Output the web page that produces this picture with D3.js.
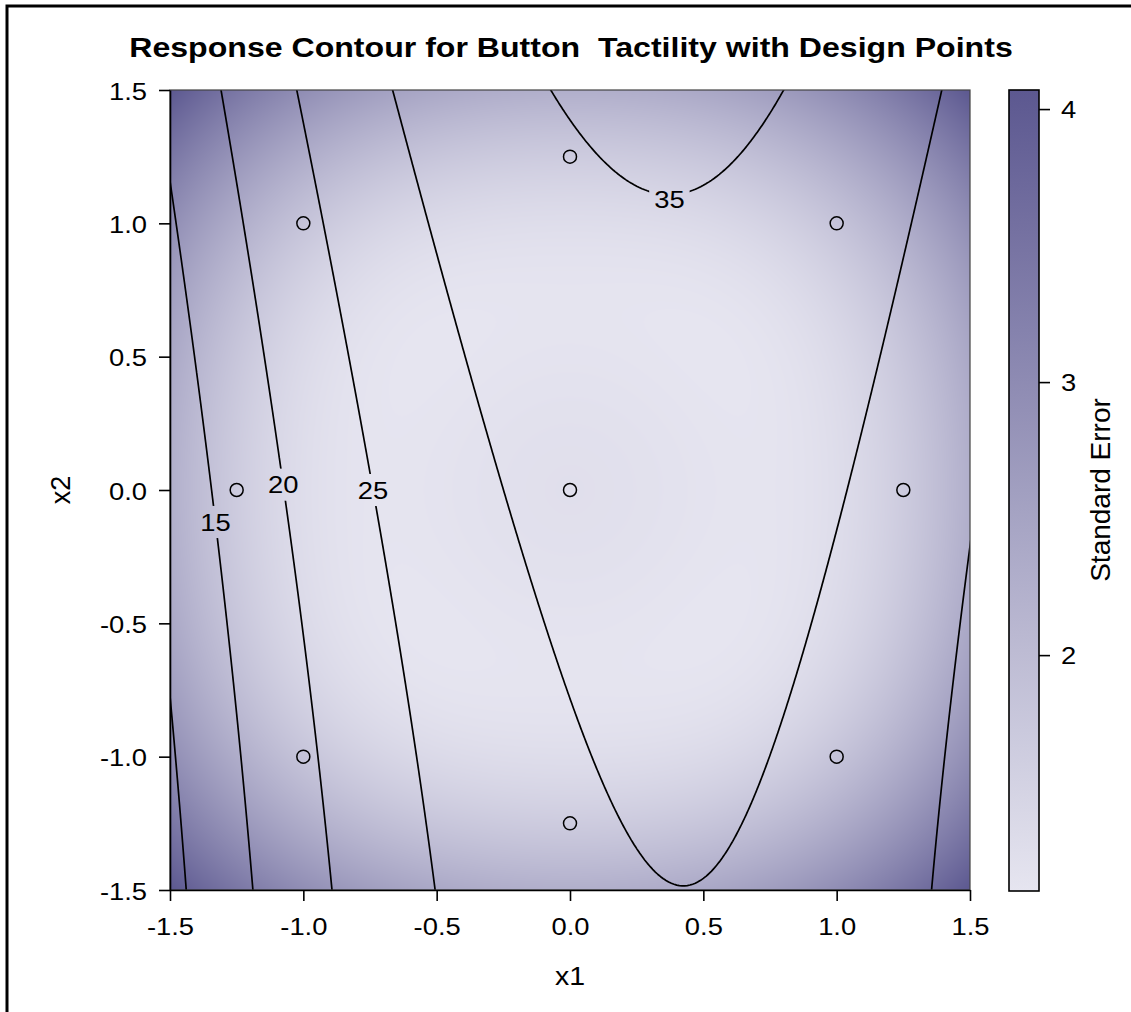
<!DOCTYPE html>
<html><head><meta charset="utf-8">
<script src="https://cdn.jsdelivr.net/npm/d3@7"></script>
<style>
html,body{margin:0;padding:0;background:#fff;}
svg text{font-family:"Liberation Sans",Arial,Helvetica,sans-serif;fill:#000;}
</style></head><body>
<svg id="chart" width="1131" height="1012"></svg>
<script>
// Second-order response model for tactility: intercept, x1, x2, x1^2, x2^2, x1*x2
const responseCoef = [31.49, 4.54, 2.13, -5.75, 0.288, -0.232];
// Central composite design runs: 4 factorial, 4 axial (±1.25), 3 centre replicates
const designX1 = [-1, 1, -1, 1, -1.25, 1.25, 0, 0, 0, 0, 0];
const designX2 = [-1, -1, 1, 1, 0, 0, -1.25, 1.25, 0, 0, 0];
const rootMSE = 2.215;
const contourLevels = [10, 15, 20, 25, 30, 35];
const labelValues = [15, 20, 25, 35];
const labelX2 = [-0.12, 0.02, 0.0, 1.09];
const axisTicks = [-1.5, -1.0, -0.5, 0.0, 0.5, 1.0, 1.5];
const seTicks = [2, 3, 4];

const W = 1131, H = 1012;
const plot = {left: 170, right: 970, top: 90, bottom: 890};
const cbar = {left: 1009, right: 1039, top: 90, bottom: 891};
const SX = 1.14;           // horizontal text stretch
const FONT = "'Liberation Sans', Arial, Helvetica, sans-serif";

const svg = d3.select("#chart");
const x = d3.scaleLinear().domain([-1.5, 1.5]).range([plot.left, plot.right]);
const y = d3.scaleLinear().domain([-1.5, 1.5]).range([plot.bottom, plot.top]);

const terms = (a, b) => [1, a, b, a * a, b * b, a * b];
const predict = (a, b) => d3.sum(terms(a, b), (t, i) => t * responseCoef[i]);

// (X'X)^-1 for the design
function invert(M) {
  const n = M.length, A = M.map((r, i) => r.concat(d3.range(n).map(j => (i === j ? 1 : 0))));
  for (let c = 0; c < n; c++) {
    let p = c;
    for (let r = c + 1; r < n; r++) if (Math.abs(A[r][c]) > Math.abs(A[p][c])) p = r;
    [A[c], A[p]] = [A[p], A[c]];
    const d = A[c][c];
    for (let k = 0; k < 2 * n; k++) A[c][k] /= d;
    for (let r = 0; r < n; r++) if (r !== c) {
      const f = A[r][c];
      for (let k = 0; k < 2 * n; k++) A[r][k] -= f * A[c][k];
    }
  }
  return A.map(r => r.slice(n));
}
const Xrows = designX1.map((a, i) => terms(a, designX2[i]));
const XtX = d3.range(6).map(i => d3.range(6).map(j => d3.sum(Xrows, r => r[i] * r[j])));
const XtXinv = invert(XtX);
function stdErr(a, b) {
  const f = terms(a, b);
  let v = 0;
  for (let i = 0; i < 6; i++) for (let j = 0; j < 6; j++) v += f[i] * XtXinv[i][j] * f[j];
  return rootMSE * Math.sqrt(v);
}

// standard error field on the pixel grid of the plot
const pw = plot.right - plot.left, ph = plot.bottom - plot.top;
const seField = new Float64Array(pw * ph);
for (let j = 0; j < ph; j++) for (let i = 0; i < pw; i++)
  seField[j * pw + i] = stdErr(x.invert(plot.left + i + 0.5), y.invert(plot.top + j + 0.5));
const seExtent = d3.extent(seField);
const color = d3.scaleLinear().domain(seExtent).range(["#e6e5f0", "#5c5890"]).interpolate(d3.interpolateRgb);

// outer frame
svg.append("rect").attr("x", 0).attr("y", 0).attr("width", W).attr("height", H).attr("fill", "#fff");
svg.append("path").attr("d", `M7,${H} V6 H${W}`).attr("fill", "none").attr("stroke", "#000").attr("stroke-width", 3);

// gradient raster
const cv = document.createElement("canvas");
cv.width = pw; cv.height = ph;
const ctx = cv.getContext("2d");
const img = ctx.createImageData(pw, ph);
for (let k = 0; k < pw * ph; k++) {
  const c = d3.rgb(color(seField[k]));
  img.data[4 * k] = c.r; img.data[4 * k + 1] = c.g; img.data[4 * k + 2] = c.b; img.data[4 * k + 3] = 255;
}
ctx.putImageData(img, 0, 0);
svg.append("image").attr("x", plot.left).attr("y", plot.top).attr("width", pw).attr("height", ph)
  .attr("preserveAspectRatio", "none").attr("href", cv.toDataURL());

const defs = svg.append("defs");
defs.append("clipPath").attr("id", "plotClip").append("rect")
  .attr("x", plot.left).attr("y", plot.top).attr("width", pw).attr("height", ph);

// contour labels (positions solved on the left branch of each isoline)
function solveX1(v, b) {
  const A = responseCoef[3], B = responseCoef[1] + responseCoef[5] * b,
        C = responseCoef[0] + responseCoef[2] * b + responseCoef[4] * b * b - v;
  const disc = Math.max(0, B * B - 4 * A * C);
  return (-B + Math.sqrt(disc)) / (2 * A);
}
const labels = labelValues.map((v, i) => ({v, px: x(solveX1(v, labelX2[i])), py: y(labelX2[i])}));

const mask = defs.append("mask").attr("id", "labelMask").attr("maskUnits", "userSpaceOnUse")
  .attr("x", 0).attr("y", 0).attr("width", W).attr("height", H);
mask.append("rect").attr("width", W).attr("height", H).attr("fill", "#fff");

// isolines from a grid slightly larger than the plot, clipped to it
const step = 0.01, lo = -1.65, n = Math.round((1.65 - lo) / step) + 1;
const grid = new Float64Array(n * n);
for (let j = 0; j < n; j++) for (let i = 0; i < n; i++)
  grid[j * n + i] = predict(lo + i * step, -lo - j * step);
const contours = d3.contours().size([n, n]).thresholds(contourLevels)(grid);
const proj = d3.geoTransform({
  point(u, v) { this.stream.point(x(lo + (u - 0.5) * step), y(-lo - (v - 0.5) * step)); }
});
const gLines = svg.append("g").attr("clip-path", "url(#plotClip)")
  .append("g").attr("mask", "url(#labelMask)");
gLines.selectAll("path").data(contours).join("path")
  .attr("d", d3.geoPath(proj)).attr("fill", "none").attr("stroke", "#000").attr("stroke-width", 1.7);

const gLab = svg.append("g");
labels.forEach(l => {
  const t = gLab.append("text").attr("transform", `translate(${l.px},${l.py}) scale(${SX},1)`)
    .attr("text-anchor", "middle").attr("dy", "0.36em").style("font-size", "24px").text(l.v);
  const bb = t.node().getBBox();
  const w = bb.width * SX + 10, h = bb.height + 6;
  mask.append("rect").attr("x", l.px - w / 2).attr("y", l.py - h / 2).attr("width", w).attr("height", h).attr("fill", "#000");
});

// design points (replicated centre runs share one marker)
const uniquePts = Array.from(new Map(designX1.map((a, i) => [a + "," + designX2[i], [a, designX2[i]]])).values());
svg.append("g").selectAll("circle").data(uniquePts).join("circle")
  .attr("cx", d => x(d[0])).attr("cy", d => y(d[1])).attr("r", 6.5)
  .attr("fill", "none").attr("stroke", "#000").attr("stroke-width", 1.5);

// plot frame
svg.append("rect").attr("x", plot.left).attr("y", plot.top).attr("width", pw).attr("height", ph)
  .attr("fill", "none").attr("stroke", "#444").attr("stroke-width", 1.2);

// axes
const fmt = d => d.toFixed(1);
const gx = svg.append("g").attr("transform", `translate(0,${plot.bottom})`)
  .call(d3.axisBottom(x).tickValues(axisTicks).tickFormat(fmt).tickSize(11).tickSizeOuter(0));
const gy = svg.append("g").attr("transform", `translate(${plot.left},0)`)
  .call(d3.axisLeft(y).tickValues(axisTicks).tickFormat(fmt).tickSize(11).tickSizeOuter(0));
[gx, gy].forEach(g => {
  g.select(".domain").attr("stroke", "#000").attr("stroke-width", 1.6);
  g.selectAll(".tick line").attr("stroke", "#000").attr("stroke-width", 1.6);
  g.selectAll("text").style("font-size", "24px").style("font-family", FONT).attr("fill", "#000");
});
gx.selectAll("text").attr("y", 45).attr("dy", 0).attr("transform", `scale(${SX},1)`);
gy.selectAll("text").attr("x", -23 / SX).attr("dy", "0.38em").attr("transform", `scale(${SX},1)`);

// axis titles
svg.append("text").attr("transform", `translate(570,985) scale(${SX},1)`).attr("text-anchor", "middle")
  .style("font-size", "25px").text("x1");
svg.append("text").attr("transform", `translate(70,490) rotate(-90)`).attr("text-anchor", "middle")
  .style("font-size", "27px").text("x2");

// title
svg.append("text").attr("transform", `translate(571,57) scale(1.146,1)`).attr("text-anchor", "middle")
  .style("font-size", "28px").style("font-weight", "bold").style("white-space", "pre")
  .text("Response Contour for Button  Tactility with Design Points");

// colour bar
const cy = d3.scaleLinear().domain(seExtent).range([cbar.bottom, cbar.top]);
const grad = defs.append("linearGradient").attr("id", "seGrad").attr("x1", 0).attr("y1", 1).attr("x2", 0).attr("y2", 0);
d3.range(0, 1.0001, 0.1).forEach(t => {
  grad.append("stop").attr("offset", t).attr("stop-color", color(seExtent[0] + t * (seExtent[1] - seExtent[0])));
});
svg.append("rect").attr("x", cbar.left).attr("y", cbar.top).attr("width", cbar.right - cbar.left)
  .attr("height", cbar.bottom - cbar.top).attr("fill", "url(#seGrad)").attr("stroke", "#000").attr("stroke-width", 1.6);
const gc = svg.append("g").attr("transform", `translate(${cbar.right},0)`)
  .call(d3.axisRight(cy).tickValues(seTicks).tickFormat(d3.format("d")).tickSize(11).tickSizeOuter(0));
gc.select(".domain").remove();
gc.selectAll(".tick line").attr("stroke", "#000").attr("stroke-width", 1.6);
gc.selectAll("text").style("font-size", "24px").style("font-family", FONT).attr("x", 22 / SX)
  .attr("dy", "0.36em").attr("transform", `scale(${SX},1)`).attr("fill", "#000");

svg.append("text").attr("transform", `translate(1110,490) rotate(-90)`).attr("text-anchor", "middle")
  .style("font-size", "28px").text("Standard Error");
</script>
</body></html>
